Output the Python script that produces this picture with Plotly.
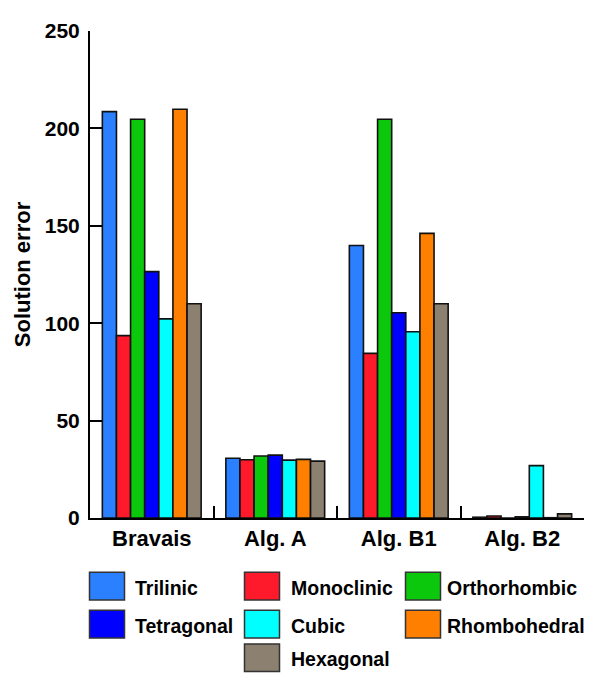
import plotly.graph_objects as go

# ---- data ----
categories = ["Bravais", "Alg. A", "Alg. B1", "Alg. B2"]
series_names = ["Trilinic", "Monoclinic", "Orthorhombic", "Tetragonal",
                "Cubic", "Rhombohedral", "Hexagonal"]
trilinic = [208.6, 30.7, 139.9, 0.4]
monoclinic = [93.6, 29.9, 84.5, 1.0]
orthorhombic = [204.7, 31.8, 204.7, 0.0]
tetragonal = [126.5, 32.3, 105.4, 0.6]
cubic = [102.2, 29.7, 95.6, 26.9]
rhombohedral = [209.8, 30.1, 146.1, 0.15]
hexagonal = [110.0, 29.2, 110.0, 2.1]
series_values = [trilinic, monoclinic, orthorhombic, tetragonal,
                 cubic, rhombohedral, hexagonal]
y_tick_values = [0, 50, 100, 150, 200, 250]

# ---- styles ----
colors = ["#2a80ff", "#ff1a2b", "#0cc80c", "#0000ff",
          "#00ffff", "#ff8000", "#8c8070"]
FONT = "Liberation Sans, Arial, sans-serif"

# page body has an 8px margin: work in page pixels and shift
OFF = 8
W, H = 595 - OFF, 673 - OFF
plot_left, plot_right, plot_top, plot_bottom = 90, 584, 24.9, 518.4  # page px
L = plot_left - OFF
R = W - (plot_right - OFF)
T = plot_top - OFF
B = H - (plot_bottom - OFF)
pw, ph = W - L - R, H - T - B

fig = go.Figure()
for name, vals, col in zip(series_names, series_values, colors):
    fig.add_trace(go.Bar(
        x=categories, y=vals, name=name,
        marker=dict(color=col, line=dict(color="#111111", width=1.6)),
        showlegend=False,
    ))


def px2paper(x, y):
    # page pixel -> paper coordinates
    return (x - OFF - L) / pw, (H - B - (y - OFF)) / ph


# manual legend (column, row) slots, page pixels
slots = [(0, 0), (1, 0), (2, 0), (0, 1), (1, 1), (2, 1), (1, 2)]
col_x = [89.5, 244.5, 405.5]
text_x = [133, 289, 445]
row_y = [573.5, 612, 646]
sw, sh = 35, 28
shapes = []
annotations = []
for (c, r), name, col in zip(slots, series_names, colors):
    x0, y0 = col_x[c], row_y[r]
    px0, py0 = px2paper(x0, y0)
    px1, py1 = px2paper(x0 + sw, y0 + sh)
    shapes.append(dict(type="rect", xref="paper", yref="paper",
                       x0=px0, x1=px1, y0=py1, y1=py0,
                       fillcolor=col, line=dict(color="#333333", width=1.5)))
    tx, ty = px2paper(text_x[c], y0 + sh / 2 + 1.5)
    annotations.append(dict(xref="paper", yref="paper", x=tx, y=ty,
                            text=name, showarrow=False, xanchor="left",
                            yanchor="middle",
                            font=dict(family=FONT, size=19.5, color="black",
                                      weight="bold")))

fig.update_layout(
    width=W, height=H,
    margin=dict(l=L, r=R, t=T, b=B),
    paper_bgcolor="white", plot_bgcolor="white",
    barmode="group", bargap=0.2, bargroupgap=0,
    font=dict(family=FONT, color="black"),
    shapes=shapes, annotations=annotations,
    xaxis=dict(
        showline=True, linecolor="black", linewidth=2,
        ticks="inside", tickson="boundaries", ticklen=12, tickwidth=2,
        tickcolor="black", showgrid=False,
        tickfont=dict(family=FONT, size=22, color="black", weight="bold"),
    ),
    yaxis=dict(
        range=[0, 250], tickvals=y_tick_values,
        showline=True, linecolor="black", linewidth=2,
        ticks="inside", ticklen=12, tickwidth=2, tickcolor="black",
        showgrid=False, zeroline=False,
        tickfont=dict(family=FONT, size=21, color="black", weight="bold"),
        ticklabelstandoff=4,
        title=dict(text="Solution error", standoff=8,
                   font=dict(family=FONT, size=22, color="black", weight="bold")),
    ),
)

fig.write_html("out.html")
